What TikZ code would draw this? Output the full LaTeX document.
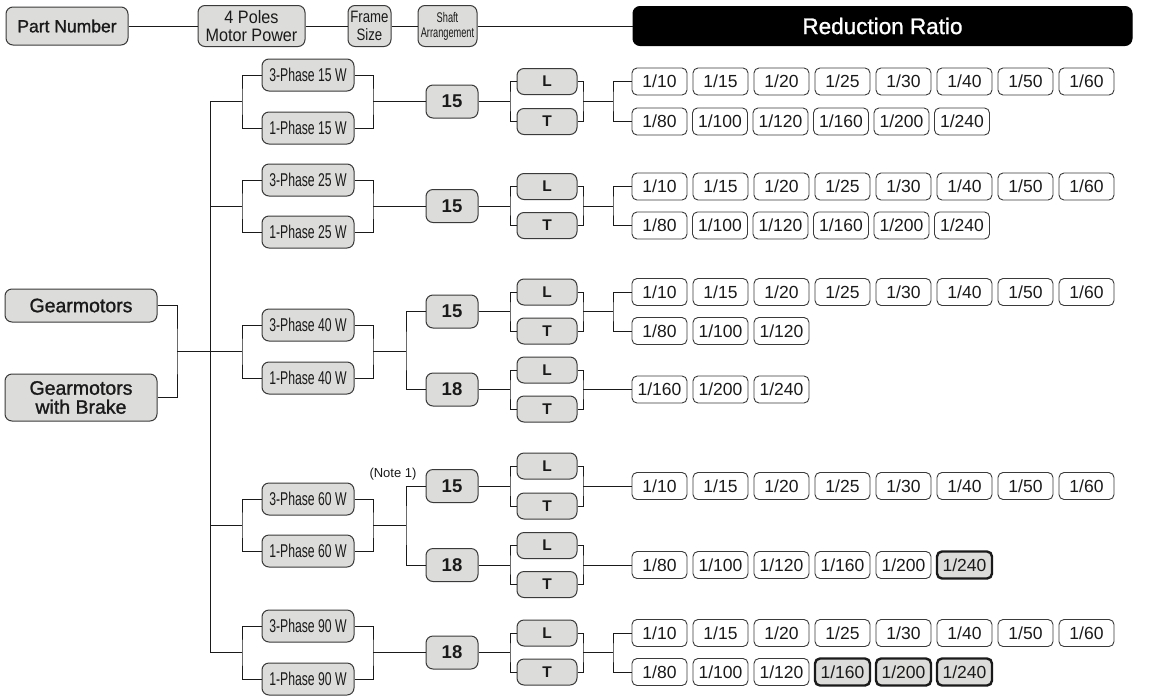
\documentclass[tikz,border=0pt]{standalone}
\usepackage{fontspec}
\setmainfont{Liberation Sans}
\newfontfamily\condfont[FakeStretch=0.66]{Liberation Sans}
\newfontfamily\medfont[FakeBold=1.2]{Liberation Sans}
\newfontfamily\narfont[FakeStretch=0.8]{Liberation Sans}
\newfontfamily\slimfont[FakeStretch=0.9]{Liberation Sans}
\definecolor{boxgray}{HTML}{DCDCDA}
\definecolor{edge}{HTML}{3A3A3A}
\definecolor{ink}{HTML}{1A1A1A}
\newcommand{\ratrow}[4]{\foreach \d/\s [count=\i] in {#4} {\node[\s] (#1\i) at ({632+27.5+(\i-1)*#3},#2) {1/\d};}}
\begin{document}
\begin{tikzpicture}[x=1pt,y=-1pt,
  gbox/.style={draw=edge, fill=boxgray, rounded corners=7pt, line width=1pt, inner sep=0pt, align=center, text=ink},
  hdr/.style={gbox, minimum height=40pt},
  pwr/.style={gbox, minimum width=92pt, minimum height=32pt, font=\condfont\fontsize{18.5}{19}\selectfont},
  frm/.style={gbox, minimum width=52pt, minimum height=33pt, font=\bfseries\fontsize{18.5}{20}\selectfont},
  lt/.style={gbox, minimum width=60pt, minimum height=26pt, font=\bfseries\fontsize{15.5}{17}\selectfont},
  gm/.style={gbox, minimum width=152pt, font=\medfont\fontsize{19.5}{19}\selectfont},
  rat/.style={draw=edge, fill=white, rounded corners=5pt, line width=0.9pt, minimum width=55pt, minimum height=27pt, inner sep=0pt, font=\fontsize{17.5}{19}\selectfont, text=ink},
  hl/.style={rat, fill=boxgray, line width=2.4pt, draw=ink},
  conn/.style={draw=ink, line width=1pt}]
\useasboundingbox (0,0) rectangle (1163,697);

% header
\node[hdr, minimum width=122pt, minimum height=38pt, font=\medfont\fontsize{17.5}{19}\selectfont] (hpn) at (67,26) {Part Number};
\node[hdr, minimum width=107pt, minimum height=41pt, font=\slimfont\fontsize{18}{18}\selectfont] (hmp) at (251.5,26) {4 Poles\\Motor Power};
\node[hdr, minimum width=43pt, minimum height=41pt, font=\narfont\fontsize{16.5}{18}\selectfont] (hfs) at (369.5,26) {Frame\\Size};
\node[hdr, minimum width=59pt, minimum height=41pt, font=\condfont\fontsize{14}{15}\selectfont] (hsa) at (447.5,26) {Shaft\\Arrangement};
\node[hdr, fill=black, draw=black, text=white, minimum width=499pt, minimum height=39pt, font=\medfont\fontsize{22.5}{24}\selectfont] (hrr) at (882.5,26) {Reduction Ratio};
\draw[conn] (hpn.east) -- (hmp.west);
\draw[conn] (hmp.east) -- (hfs.west);
\draw[conn] (hfs.east) -- (hsa.west);
\draw[conn] (hsa.east) -- (hrr.west);

% gearmotors
\node[gm, minimum height=33pt] (gm1) at (81,305.5) {Gearmotors};
\node[gm, minimum height=47pt] (gm2) at (81,397.5) {Gearmotors\\with Brake};
\coordinate (gj) at (177,351.5);
\draw[conn] (gm1.east) -| (gj) |- (gm2.east);

% trunk
\coordinate (k1) at (210,101.5);
\coordinate (k2) at (210,206);
\coordinate (k4) at (210,525);
\coordinate (k5) at (210,652.5);
\draw[conn] (k1) -- (k5);

% ---------- section 1 : 15 W
\node[pwr] (p1a) at (308,75) {3-Phase 15 W};
\node[pwr] (p1b) at (308,128) {1-Phase 15 W};
\coordinate (a1) at (242,101.5);
\coordinate (b1) at (373,101.5);
\node[frm] (f1) at (452,101.5) {15};
\coordinate (c1) at (510,101.5);
\node[lt] (l1) at (547,81.5) {L};
\node[lt] (t1) at (547,121.5) {T};
\coordinate (d1) at (583,101.5);
\coordinate (e1) at (613,101.5);
\ratrow{s1x}{81.5}{61}{10/rat,15/rat,20/rat,25/rat,30/rat,40/rat,50/rat,60/rat}
\ratrow{s1y}{121.5}{60.5}{80/rat,100/rat,120/rat,160/rat,200/rat,240/rat}
\draw[conn] (k1) -- (a1);
\draw[conn] (p1a.west) -| (a1) |- (p1b.west);
\draw[conn] (p1a.east) -| (b1) |- (p1b.east);
\draw[conn] (b1) -- (f1.west);
\draw[conn] (f1.east) -- (c1);
\draw[conn] (l1.west) -| (c1) |- (t1.west);
\draw[conn] (l1.east) -| (d1) |- (t1.east);
\draw[conn] (d1) -- (e1);
\draw[conn] (s1x1.west) -| (e1) |- (s1y1.west);

% ---------- section 2 : 25 W
\node[pwr] (p2a) at (308,180) {3-Phase 25 W};
\node[pwr] (p2b) at (308,232) {1-Phase 25 W};
\coordinate (a2) at (242,206);
\coordinate (b2) at (373,206);
\node[frm] (f2) at (452,206) {15};
\coordinate (c2) at (510,206);
\node[lt] (l2) at (547,186.5) {L};
\node[lt] (t2) at (547,225.5) {T};
\coordinate (d2) at (583,206);
\coordinate (e2) at (613,206);
\ratrow{s2x}{186.5}{61}{10/rat,15/rat,20/rat,25/rat,30/rat,40/rat,50/rat,60/rat}
\ratrow{s2y}{225.5}{60.5}{80/rat,100/rat,120/rat,160/rat,200/rat,240/rat}
\draw[conn] (k2) -- (a2);
\draw[conn] (p2a.west) -| (a2) |- (p2b.west);
\draw[conn] (p2a.east) -| (b2) |- (p2b.east);
\draw[conn] (b2) -- (f2.west);
\draw[conn] (f2.east) -- (c2);
\draw[conn] (l2.west) -| (c2) |- (t2.west);
\draw[conn] (l2.east) -| (d2) |- (t2.east);
\draw[conn] (d2) -- (e2);
\draw[conn] (s2x1.west) -| (e2) |- (s2y1.west);

% ---------- section 3 : 40 W
\node[pwr] (p3a) at (308,325) {3-Phase 40 W};
\node[pwr] (p3b) at (308,378) {1-Phase 40 W};
\coordinate (a3) at (242,351.5);
\coordinate (b3) at (373,351.5);
\coordinate (g3) at (406,351.5);
\node[frm] (f3) at (452,311.5) {15};
\node[frm] (f3b) at (452,389.5) {18};
\coordinate (c3) at (510,311.5);
\node[lt] (l3) at (547,292) {L};
\node[lt] (t3) at (547,331) {T};
\coordinate (d3) at (583,311.5);
\coordinate (e3) at (613,311.5);
\ratrow{s3x}{292}{61}{10/rat,15/rat,20/rat,25/rat,30/rat,40/rat,50/rat,60/rat}
\ratrow{s3y}{331}{61}{80/rat,100/rat,120/rat}
\coordinate (c3b) at (510,389.5);
\node[lt] (l3b) at (547,370) {L};
\node[lt] (t3b) at (547,409) {T};
\coordinate (d3b) at (583,389.5);
\ratrow{s3z}{389.5}{61}{160/rat,200/rat,240/rat}
\draw[conn] (gj) -- (a3);
\draw[conn] (p3a.west) -| (a3) |- (p3b.west);
\draw[conn] (p3a.east) -| (b3) |- (p3b.east);
\draw[conn] (b3) -- (g3);
\draw[conn] (f3.west) -| (g3) |- (f3b.west);
\draw[conn] (f3.east) -- (c3);
\draw[conn] (l3.west) -| (c3) |- (t3.west);
\draw[conn] (l3.east) -| (d3) |- (t3.east);
\draw[conn] (d3) -- (e3);
\draw[conn] (s3x1.west) -| (e3) |- (s3y1.west);
\draw[conn] (f3b.east) -- (c3b);
\draw[conn] (l3b.west) -| (c3b) |- (t3b.west);
\draw[conn] (l3b.east) -| (d3b) |- (t3b.east);
\draw[conn] (d3b) -- (s3z1.west);

% ---------- section 4 : 60 W
\node[pwr] (p4a) at (308,499) {3-Phase 60 W};
\node[pwr] (p4b) at (308,551) {1-Phase 60 W};
\coordinate (a4) at (242,525);
\coordinate (b4) at (373,525);
\coordinate (g4) at (406,525);
\node[frm] (f4) at (452,486) {15};
\node[frm] (f4b) at (452,565) {18};
\node[font=\fontsize{13}{14}\selectfont, text=ink, inner sep=0pt] (note) at (393,474) {(Note 1)};
\coordinate (c4) at (510,486);
\node[lt] (l4) at (547,466) {L};
\node[lt] (t4) at (547,506) {T};
\coordinate (d4) at (583,486);
\ratrow{s4x}{486}{61}{10/rat,15/rat,20/rat,25/rat,30/rat,40/rat,50/rat,60/rat}
\coordinate (c4b) at (510,565);
\node[lt] (l4b) at (547,545.5) {L};
\node[lt] (t4b) at (547,584.5) {T};
\coordinate (d4b) at (583,565);
\ratrow{s4y}{565}{61}{80/rat,100/rat,120/rat,160/rat,200/rat,240/hl}
\draw[conn] (k4) -- (a4);
\draw[conn] (p4a.west) -| (a4) |- (p4b.west);
\draw[conn] (p4a.east) -| (b4) |- (p4b.east);
\draw[conn] (b4) -- (g4);
\draw[conn] (f4.west) -| (g4) |- (f4b.west);
\draw[conn] (f4.east) -- (c4);
\draw[conn] (l4.west) -| (c4) |- (t4.west);
\draw[conn] (l4.east) -| (d4) |- (t4.east);
\draw[conn] (d4) -- (s4x1.west);
\draw[conn] (f4b.east) -- (c4b);
\draw[conn] (l4b.west) -| (c4b) |- (t4b.west);
\draw[conn] (l4b.east) -| (d4b) |- (t4b.east);
\draw[conn] (d4b) -- (s4y1.west);

% ---------- section 5 : 90 W
\node[pwr] (p5a) at (308,626) {3-Phase 90 W};
\node[pwr] (p5b) at (308,679) {1-Phase 90 W};
\coordinate (a5) at (242,652.5);
\coordinate (b5) at (373,652.5);
\node[frm] (f5) at (452,652.5) {18};
\coordinate (c5) at (510,652.5);
\node[lt] (l5) at (547,633) {L};
\node[lt] (t5) at (547,672) {T};
\coordinate (d5) at (583,652.5);
\coordinate (e5) at (613,652.5);
\ratrow{s5x}{633}{61}{10/rat,15/rat,20/rat,25/rat,30/rat,40/rat,50/rat,60/rat}
\ratrow{s5y}{672}{61}{80/rat,100/rat,120/rat,160/hl,200/hl,240/hl}
\draw[conn] (k5) -- (a5);
\draw[conn] (p5a.west) -| (a5) |- (p5b.west);
\draw[conn] (p5a.east) -| (b5) |- (p5b.east);
\draw[conn] (b5) -- (f5.west);
\draw[conn] (f5.east) -- (c5);
\draw[conn] (l5.west) -| (c5) |- (t5.west);
\draw[conn] (l5.east) -| (d5) |- (t5.east);
\draw[conn] (d5) -- (e5);
\draw[conn] (s5x1.west) -| (e5) |- (s5y1.west);
\end{tikzpicture}
\end{document}
